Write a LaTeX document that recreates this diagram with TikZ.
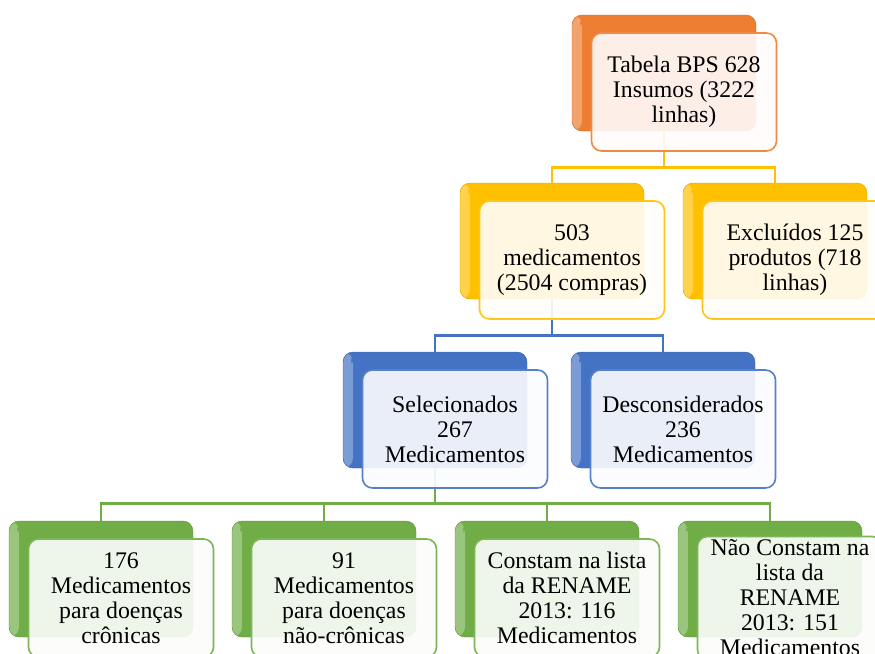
\documentclass[tikz,border=0pt]{standalone}
\usepackage{fontspec}
\setmainfont{Liberation Serif}
\usepackage{tikz}
\definecolor{laranja}{HTML}{ED7D31}
\definecolor{amarelo}{HTML}{FFC000}
\definecolor{azul}{HTML}{4472C4}
\definecolor{verde}{HTML}{70AD47}

\begin{document}
\begin{tikzpicture}[x=1pt,y=-1pt]
						\tikzset{back/.style={rectangle,rounded corners=10pt,minimum width=184pt,minimum height=116pt,draw=#1!85!black,line width=0.4pt,fill=#1,path picture={\shade[left color=#1!70!white,right color=#1] (path picture bounding box.north west) rectangle ([xshift=10pt]path picture bounding box.south west);\shade[top color=#1,middle color=#1!50!white,bottom color=#1] ([xshift=8pt,yshift=-2pt]path picture bounding box.north west) rectangle ([xshift=-6pt,yshift=-15pt]path picture bounding box.north east);}}}
						\tikzset{face/.style={rectangle,rounded corners=10pt,minimum width=185pt,minimum height=118pt,draw=#1!90!white,line width=1.6pt,fill=#1!2!white,fill opacity=0.9,text opacity=1,align=center,font=\fontsize{23.8}{25}\selectfont}}
						\tikzset{link/.style={draw=#1,line width=2.8pt}}
						\path[use as bounding box,clip] (0,0) rectangle (875,653);
						\node[back=laranja](b1) at (664,73) {};
						\node[back=amarelo](b2) at (552,241) {};
						\node[back=amarelo](b3) at (775,241) {};
						\node[back=azul](b4) at (435,410) {};
						\node[back=azul](b5) at (663,410) {};
						\node[back=verde](b6) at (101,579) {};
						\node[back=verde](b7) at (324,579) {};
						\node[back=verde](b8) at (547,579) {};
						\node[back=verde](b9) at (770,579) {};
						\draw[link=amarelo](b1.south) -- ++(0,36) -| (b2.north);
						\draw[link=amarelo](b1.south) -- ++(0,36) -| (b3.north);
						\draw[link=azul](b2.south) -- ++(0,36) -| (b4.north);
						\draw[link=azul](b2.south) -- ++(0,36) -| (b5.north);
						\draw[link=verde](b4.south) -- ++(0,35) -| (b6.north);
						\draw[link=verde](b4.south) -- ++(0,35) -| (b7.north);
						\draw[link=verde](b4.south) -- ++(0,35) -| (b8.north);
						\draw[link=verde](b4.south) -- ++(0,35) -| (b9.north);
						\node[face=laranja](t1) at ([shift={(20,19)}]b1.center) {Tabela BPS 628\\Insumos (3222\\linhas)};
						\node[face=amarelo](t2) at ([shift={(20,19)}]b2.center) {503\\medicamentos\\(2504 compras)};
						\node[face=amarelo](t3) at ([shift={(20,19)}]b3.center) {Excluídos 125\\produtos (718\\linhas)};
						\node[face=azul](t4) at ([shift={(20,19)}]b4.center) {Selecionados\\267\\Medicamentos};
						\node[face=azul](t5) at ([shift={(20,19)}]b5.center) {Desconsiderados\\236\\Medicamentos};
						\node[face=verde](t6) at ([shift={(20,19)}]b6.center) {176\\Medicamentos\\para doenças\\crônicas};
						\node[face=verde](t7) at ([shift={(20,19)}]b7.center) {91\\Medicamentos\\para doenças\\não-crônicas};
						\node[face=verde](t8) at ([shift={(20,19)}]b8.center) {Constam na lista\\da RENAME\\2013: 116\\Medicamentos};
						\node[face=verde](t9) at ([shift={(20,19)}]b9.center) {Não Constam na\\lista da\\RENAME\\2013: 151\\Medicamentos};
					\end{tikzpicture}
\end{document}
